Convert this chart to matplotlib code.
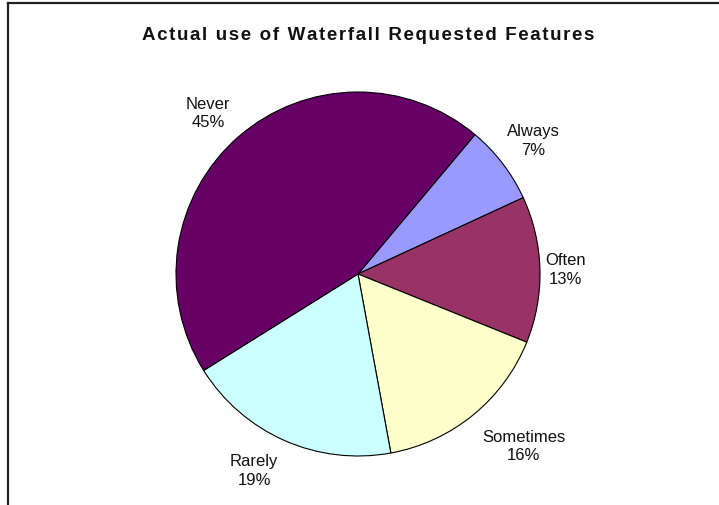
import matplotlib
matplotlib.use("Agg")
import matplotlib.pyplot as plt
import numpy as np

categories = ["Always", "Often", "Sometimes", "Rarely", "Never"]
values = [7, 13, 16, 19, 45]
pct_labels = ["7%", "13%", "16%", "19%", "45%"]
colors = ["#9999FF", "#993366", "#FFFFCC", "#CCFFFF", "#660066"]
title = "Actual use of Waterfall Requested Features"
label_dist = [1.21, 1.14, 1.31, 1.22, 1.21]
label_angle_offset = [0, 0, 4.8, -4.1, 1.8]

plt.rcParams['font.family'] = ['Liberation Sans', 'DejaVu Sans']

W, H = 719, 506
fig = plt.figure(figsize=(W / 100, H / 100), dpi=100)

cx, cy, r = 358, 275, 182
ax = fig.add_axes([(cx - r) / W, (H - cy - r) / H, 2 * r / W, 2 * r / H])
ax.set_xlim(-1, 1)
ax.set_ylim(-1, 1)
ax.set_aspect('equal')
ax.axis('off')

wedges, _ = ax.pie(values, colors=colors, startangle=50, counterclock=False,
                   radius=1, center=(0, 0),
                   wedgeprops=dict(edgecolor='black', linewidth=0.8))
ax.set_xlim(-1, 1)
ax.set_ylim(-1, 1)

for w, cat, pct, d, off in zip(wedges, categories, pct_labels, label_dist, label_angle_offset):
    mid = np.deg2rad((w.theta1 + w.theta2) / 2 + off)
    ax.text(d * np.cos(mid), d * np.sin(mid), f"{cat}\n{pct}", ha='center', va='center',
            fontsize=12, linespacing=1.3, color='#111111', clip_on=False)

spaced_title = "\u200a".join(title)
fig.text(368 / W, 1 - 36 / H, spaced_title,
         ha='center', va='center', fontsize=13.5, fontweight='bold', color='#111111',
         family=['Liberation Sans', 'DejaVu Sans'])

# chart frame (top and left edges)
fig.add_artist(plt.Line2D([8 / W, 1], [1 - 4 / H, 1 - 4 / H], transform=fig.transFigure,
                          color='#222222', linewidth=1.6))
fig.add_artist(plt.Line2D([8 / W, 8 / W], [0, 1 - 4 / H], transform=fig.transFigure,
                          color='#222222', linewidth=1.6))

fig.savefig("out.png", dpi=100)
